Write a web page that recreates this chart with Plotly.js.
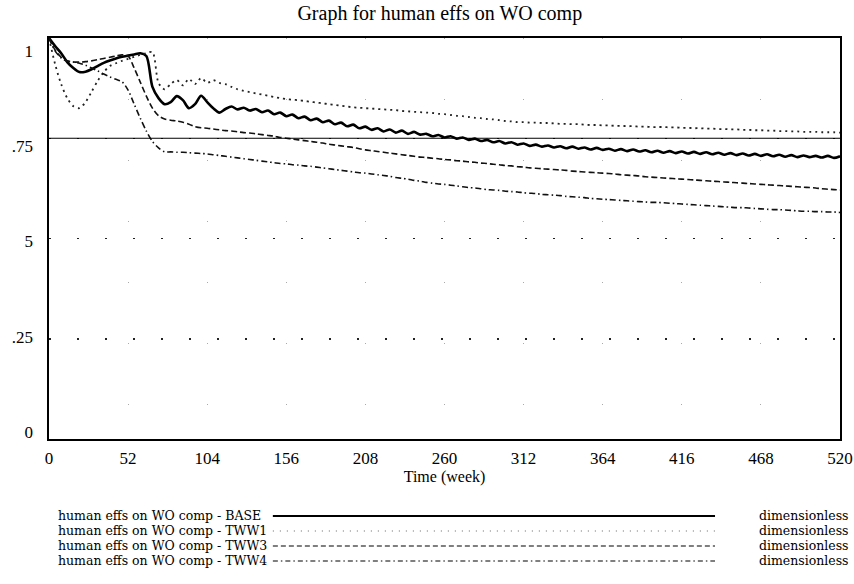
<!DOCTYPE html>
<html>
<head>
<meta charset="utf-8">
<script src="https://cdn.plot.ly/plotly-3.0.1.min.js"></script>
<style>html,body{margin:0;padding:0;background:#fff;}#chart{width:854px;height:584px;}</style>
</head>
<body>
<div id="chart"></div>
<script>
var weeks = [
  0,4,8,12,16,20,24,28,32,36,
  40,44,48,52,56,60,64,68,72,76,
  80,84,88,92,96,100,104,108,112,116,
  120,124,128,132,136,140,144,148,152,156,
  160,164,168,172,176,180,184,188,192,196,
  200,204,208,212,216,220,224,228,232,236,
  240,244,248,252,256,260,264,268,272,276,
  280,284,288,292,296,300,304,308,312,316,
  320,324,328,332,336,340,344,348,352,356,
  360,364,368,372,376,380,384,388,392,396,
  400,404,408,412,416,420,424,428,432,436,
  440,444,448,452,456,460,464,468,472,476,
  480,484,488,492,496,500,504,508,512,516,
  520];

var base = [
  1.000,0.980,0.962,0.940,0.925,0.915,0.916,0.922,0.930,0.938,
  0.944,0.949,0.953,0.956,0.959,0.962,0.955,0.878,0.850,0.835,
  0.840,0.855,0.845,0.825,0.835,0.856,0.840,0.825,0.814,0.823,
  0.829,0.822,0.826,0.819,0.823,0.815,0.819,0.810,0.814,0.805,
  0.809,0.800,0.804,0.795,0.799,0.790,0.794,0.785,0.789,0.780,
  0.784,0.775,0.779,0.771,0.775,0.767,0.772,0.764,0.769,0.761,
  0.766,0.759,0.761,0.755,0.758,0.752,0.755,0.749,0.752,0.746,
  0.749,0.743,0.746,0.740,0.743,0.737,0.740,0.734,0.737,0.731,
  0.734,0.729,0.732,0.727,0.730,0.725,0.729,0.724,0.727,0.722,
  0.726,0.721,0.724,0.719,0.723,0.718,0.722,0.717,0.720,0.715,
  0.719,0.714,0.718,0.713,0.717,0.712,0.716,0.711,0.715,0.710,
  0.714,0.709,0.713,0.708,0.712,0.707,0.711,0.706,0.710,0.705,
  0.709,0.704,0.708,0.703,0.707,0.703,0.706,0.702,0.706,0.701,
  0.705];

var tww1 = [
  1.000,0.935,0.885,0.850,0.830,0.825,0.840,0.866,0.893,0.915,
  0.930,0.937,0.943,0.948,0.953,0.958,0.962,0.965,0.888,0.872,
  0.885,0.895,0.882,0.898,0.885,0.900,0.888,0.895,0.888,0.885,
  0.878,0.872,0.868,0.865,0.862,0.859,0.856,0.853,0.850,0.848,
  0.846,0.845,0.843,0.841,0.839,0.837,0.835,0.833,0.831,0.829,
  0.827,0.826,0.825,0.824,0.823,0.822,0.821,0.820,0.818,0.817,
  0.816,0.815,0.814,0.813,0.811,0.810,0.808,0.806,0.805,0.803,
  0.801,0.800,0.798,0.797,0.795,0.793,0.792,0.790,0.790,0.789,
  0.789,0.788,0.788,0.787,0.786,0.786,0.785,0.785,0.784,0.783,
  0.783,0.782,0.782,0.781,0.781,0.780,0.780,0.779,0.779,0.778,
  0.778,0.778,0.777,0.777,0.776,0.776,0.775,0.775,0.774,0.774,
  0.773,0.773,0.772,0.772,0.771,0.771,0.770,0.770,0.769,0.769,
  0.768,0.768,0.767,0.767,0.766,0.766,0.766,0.765,0.765,0.765,
  0.764];

var tww3 = [
  1.000,0.970,0.952,0.943,0.940,0.940,0.941,0.943,0.946,0.949,
  0.952,0.955,0.958,0.955,0.925,0.890,0.855,0.825,0.806,0.798,
  0.795,0.793,0.790,0.785,0.779,0.776,0.775,0.773,0.771,0.769,
  0.768,0.766,0.764,0.763,0.761,0.759,0.757,0.755,0.752,0.750,
  0.748,0.746,0.744,0.742,0.740,0.738,0.735,0.733,0.731,0.729,
  0.727,0.724,0.721,0.719,0.717,0.715,0.713,0.711,0.709,0.707,
  0.705,0.703,0.702,0.700,0.699,0.697,0.696,0.694,0.693,0.691,
  0.690,0.688,0.687,0.685,0.684,0.682,0.681,0.679,0.678,0.676,
  0.675,0.674,0.673,0.672,0.671,0.670,0.668,0.667,0.666,0.665,
  0.664,0.663,0.662,0.661,0.659,0.658,0.657,0.656,0.654,0.653,
  0.652,0.651,0.650,0.649,0.648,0.647,0.646,0.645,0.644,0.643,
  0.642,0.641,0.640,0.639,0.638,0.637,0.636,0.635,0.634,0.633,
  0.632,0.631,0.630,0.629,0.628,0.627,0.626,0.624,0.623,0.622,
  0.621];

var tww4 = [
  1.000,0.968,0.950,0.942,0.940,0.937,0.932,0.925,0.918,0.910,
  0.903,0.897,0.891,0.870,0.835,0.800,0.768,0.742,0.726,0.716,
  0.716,0.715,0.715,0.714,0.713,0.712,0.711,0.709,0.707,0.705,
  0.703,0.701,0.699,0.697,0.695,0.693,0.691,0.689,0.687,0.686,
  0.684,0.683,0.681,0.680,0.678,0.676,0.674,0.672,0.670,0.668,
  0.666,0.664,0.663,0.661,0.659,0.657,0.655,0.652,0.650,0.648,
  0.645,0.643,0.640,0.638,0.636,0.635,0.633,0.631,0.629,0.627,
  0.626,0.624,0.622,0.621,0.620,0.618,0.617,0.616,0.614,0.613,
  0.612,0.610,0.609,0.608,0.607,0.605,0.604,0.603,0.602,0.600,
  0.599,0.598,0.597,0.596,0.595,0.594,0.593,0.592,0.591,0.590,
  0.590,0.589,0.588,0.587,0.586,0.585,0.584,0.583,0.582,0.581,
  0.580,0.579,0.578,0.577,0.577,0.576,0.575,0.574,0.573,0.572,
  0.572,0.571,0.570,0.569,0.568,0.568,0.567,0.567,0.566,0.566,
  0.565];

var seriesNames = ['human effs on WO comp - BASE','human effs on WO comp - TWW1','human effs on WO comp - TWW3','human effs on WO comp - TWW4'];
var unitLabel = 'dimensionless';
var xTicks = [0,52,104,156,208,260,312,364,416,468,520];
var yTicks = [0,0.25,0.5,0.75,1];
var yTickText = ['0','.25','5','.75','1'];

var FONT = 'Liberation Serif, Times New Roman, serif';
var LEGFONT = 'DejaVu Serif, Liberation Serif, serif';
var styles = [
  {color:'#000', width:2.6, dash:'solid'},
  {color:'#222', width:1.8, dash:'2px,4px'},
  {color:'#111', width:1.6, dash:'6px,3px'},
  {color:'#111', width:1.6, dash:'6px,3px,1.5px,3px'}
];
var legDash = ['solid','1px,6px','5px,3px','5px,3px,1.5px,3px'];
var seriesData = [base, tww1, tww3, tww4];

var traces = seriesData.map(function(vals, i){
  return {x: weeks, y: vals, type:'scatter', mode:'lines', name: seriesNames[i],
          line:{color:styles[i].color, width:styles[i].width, dash:styles[i].dash, shape:'spline', smoothing:0.8},
          hoverinfo:'skip', showlegend:false};
});
// empty carrier so the label-only axis (y2) is created
traces.push({x:[], y:[], type:'scatter', mode:'lines', yaxis:'y2', hoverinfo:'skip', showlegend:false});

// legend rows below the chart
var rowY = [-0.1920, -0.2294, -0.2668, -0.3042];
var annotations = [];
var shapes = [];
seriesNames.forEach(function(n, i){
  annotations.push({xref:'paper', yref:'paper', x:0.010, y:rowY[i], xanchor:'left', yanchor:'middle',
    text:n, showarrow:false, borderpad:0, font:{family:LEGFONT, size:12.5, color:'#000'}});
  annotations.push({xref:'paper', yref:'paper', x:1.0126, y:rowY[i], xanchor:'right', yanchor:'middle',
    text:unitLabel, showarrow:false, borderpad:0, font:{family:LEGFONT, size:12.5, color:'#000'}});
  shapes.push({type:'line', xref:'paper', yref:'paper', x0:0.283, x1:0.842, y0:rowY[i], y1:rowY[i],
    line:{color: i===1 ? '#666' : '#000', width: i===0 ? 1.8 : 1.2, dash:legDash[i]}});
});
// thin reference line at .75
shapes.push({type:'line', xref:'paper', yref:'y', x0:0, x1:1, y0:0.75, y1:0.75, line:{color:'#000', width:1}});

var layout = {
  width:854, height:584,
  margin:{l:49, r:14, t:38, b:145, pad:0},
  paper_bgcolor:'#fff', plot_bgcolor:'#fff',
  font:{family:FONT, color:'#000', size:17},
  title:{text:'Graph for human effs on WO comp', x:0.515, xanchor:'center', y:0.978, yanchor:'middle',
         font:{family:FONT, size:20, color:'#000'}},
  xaxis:{range:[0,520], tickvals:xTicks, ticktext:xTicks.map(String), ticks:'', showline:true, mirror:true,
         linecolor:'#000', linewidth:2, zeroline:false, showgrid:true, gridcolor:'#aaa', gridwidth:1, griddash:'1px,60px',
         tickfont:{family:FONT, size:17, color:'#000'}, ticklabelstandoff:3,
         title:{text:'Time (week)', font:{family:FONT, size:16, color:'#000'}, standoff:3}},
  yaxis:{range:[0,1], tickvals:yTicks, ticks:'', showline:true, mirror:true, showticklabels:false,
         linecolor:'#000', linewidth:2, zeroline:false, showgrid:true, gridcolor:'#222', gridwidth:1.5, griddash:'2px,26px'},
  yaxis2:{overlaying:'y', side:'left', anchor:'x', range:[-0.0184,1.0341], tickvals:yTicks, ticktext:yTickText,
          ticks:'', showline:false, showgrid:false, zeroline:false,
          tickfont:{family:FONT, size:17, color:'#000'}, ticklabelstandoff:15},
  annotations:annotations,
  shapes:shapes
};

Plotly.newPlot('chart', traces, layout, {displayModeBar:false, staticPlot:true});
</script>
</body>
</html>
